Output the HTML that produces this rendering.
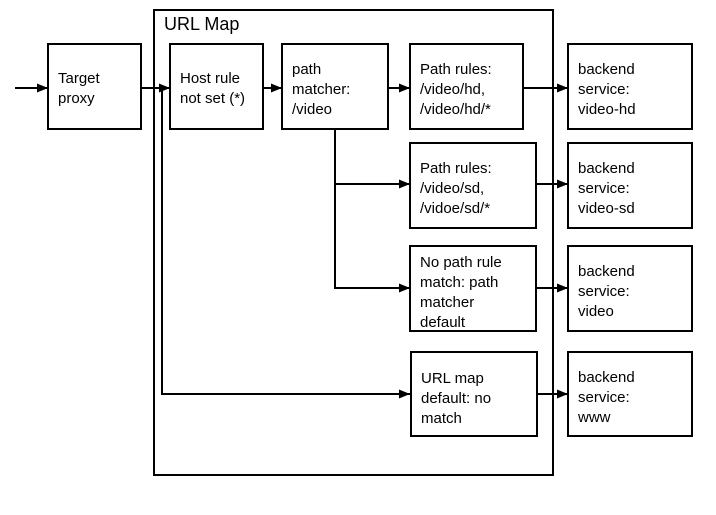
<!DOCTYPE html>
<html><head><style>
body{margin:0;background:#fff;}
svg text{font-family:"Liberation Sans",Arial,sans-serif;font-size:15px;fill:#000;}
</style></head><body>
<svg width="716" height="510" xmlns="http://www.w3.org/2000/svg">
<defs><marker id="a" markerWidth="11" markerHeight="9" refX="11" refY="4.5" orient="auto" markerUnits="userSpaceOnUse"><path d="M0,0L11,4.5L0,9z" fill="#000"/></marker></defs>
<g fill="none" stroke="#000" stroke-width="2">
<rect x="154" y="10" width="399" height="465"/>
<rect x="48" y="44" width="93" height="85"/>
<rect x="170" y="44" width="93" height="85"/>
<rect x="282" y="44" width="106" height="85"/>
<rect x="410" y="44" width="113" height="85"/>
<rect x="410" y="143" width="126" height="85"/>
<rect x="410" y="246" width="126" height="85"/>
<rect x="411" y="352" width="126" height="84"/>
<rect x="568" y="44" width="124" height="85"/>
<rect x="568" y="143" width="124" height="85"/>
<rect x="568" y="246" width="124" height="85"/>
<rect x="568" y="352" width="124" height="84"/>
<g marker-end="url(#a)">
<path d="M15,88H48"/>
<path d="M141,88H170"/>
<path d="M263,88H282"/>
<path d="M388,88H410"/>
<path d="M162,88V394H410"/>
<path d="M335,129V184H410"/>
<path d="M335,184V288H410"/>
<path d="M523,88H568"/>
<path d="M536,184H568"/>
<path d="M536,288H568"/>
<path d="M537,394H568"/>
</g>
</g>
<text x="164" y="30" style="font-size:18px">URL Map</text>
<text x="58" y="83">Target</text><text x="58" y="103">proxy</text>
<text x="180" y="83">Host rule</text><text x="180" y="103">not set (*)</text>
<text x="292" y="74">path</text><text x="292" y="94">matcher:</text><text x="292" y="114">/video</text>
<text x="420" y="74">Path rules:</text><text x="420" y="94">/video/hd,</text><text x="420" y="114">/video/hd/*</text>
<text x="420" y="173">Path rules:</text><text x="420" y="193">/video/sd,</text><text x="420" y="213">/vidoe/sd/*</text>
<text x="420" y="267">No path rule</text><text x="420" y="287">match: path</text><text x="420" y="307">matcher</text><text x="420" y="327">default</text>
<text x="421" y="383">URL map</text><text x="421" y="403">default: no</text><text x="421" y="423">match</text>
<text x="578" y="74">backend</text><text x="578" y="94">service:</text><text x="578" y="114">video-hd</text>
<text x="578" y="173">backend</text><text x="578" y="193">service:</text><text x="578" y="213">video-sd</text>
<text x="578" y="276">backend</text><text x="578" y="296">service:</text><text x="578" y="316">video</text>
<text x="578" y="382">backend</text><text x="578" y="402">service:</text><text x="578" y="422">www</text>
</svg>
</body></html>
